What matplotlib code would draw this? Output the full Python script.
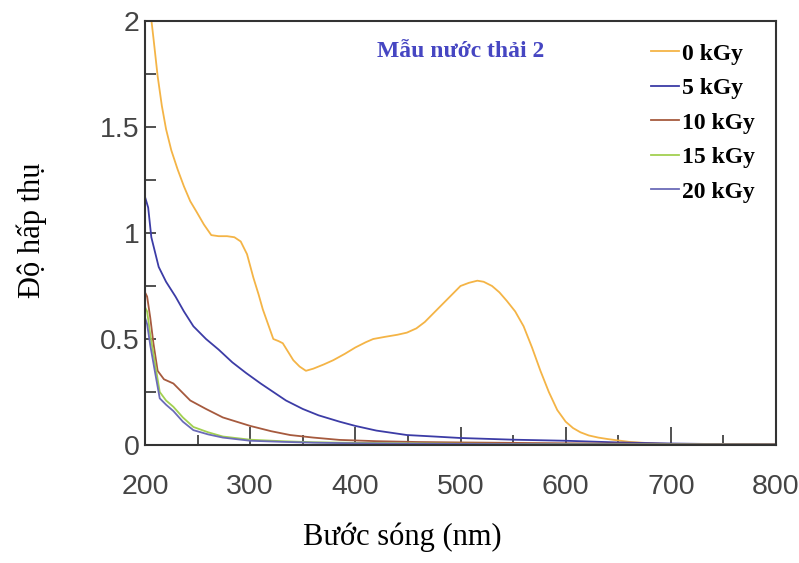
import numpy as np
import matplotlib
matplotlib.use("Agg")
import matplotlib.pyplot as plt
from matplotlib.ticker import MultipleLocator, FixedLocator

# -----------------------------
# Data
# -----------------------------
labels = ["0 kGy", "5 kGy", "10 kGy", "15 kGy", "20 kGy"]

wl_0 = [205, 208, 212, 216, 220, 225, 231, 237, 243, 249, 256, 263, 270, 278, 285,
        291, 297, 303, 308, 312, 317, 322, 327, 331, 336, 341, 347, 353, 360, 370,
        379, 390, 400, 410, 417, 428, 440, 449, 458, 466, 474, 482, 490, 500, 508,
        516, 522, 530, 537, 544, 552, 560, 568, 576, 584, 592, 600, 607, 614, 622,
        631, 640, 649, 660, 675, 690, 710, 750, 800]
abs_0 = [2.05, 1.92, 1.74, 1.60, 1.49, 1.39, 1.30, 1.22, 1.15, 1.10, 1.04, 0.99, 0.985, 0.985, 0.98,
         0.96, 0.90, 0.79, 0.71, 0.64, 0.57, 0.50, 0.49, 0.48, 0.44, 0.40, 0.37, 0.35, 0.36, 0.38,
         0.40, 0.43, 0.46, 0.485, 0.50, 0.51, 0.52, 0.53, 0.55, 0.58, 0.62, 0.66, 0.70, 0.75, 0.765,
         0.775, 0.77, 0.75, 0.72, 0.68, 0.63, 0.56, 0.46, 0.35, 0.25, 0.165, 0.11, 0.08, 0.06, 0.045,
         0.035, 0.028, 0.022, 0.015, 0.01, 0.006, 0.004, 0.002, 0.001]

wl_5 = [200, 203, 206, 210, 213, 220, 229, 237, 246, 258, 270, 283, 296, 310, 322,
        334, 350, 365, 385, 400, 420, 449, 475, 500, 550, 600, 650, 700, 750, 800]
abs_5 = [1.17, 1.12, 0.98, 0.90, 0.84, 0.77, 0.70, 0.63, 0.56, 0.50, 0.45, 0.39, 0.34, 0.29, 0.25,
         0.21, 0.17, 0.14, 0.11, 0.09, 0.068, 0.047, 0.04, 0.033, 0.025, 0.02, 0.012, 0.007, 0.004, 0.003]

wl_10 = [200, 202, 205, 208, 212, 218, 227, 235, 243, 258, 274, 287, 300, 320, 338,
         360, 385, 420, 460, 500, 600, 700, 800]
abs_10 = [0.72, 0.70, 0.60, 0.48, 0.35, 0.31, 0.29, 0.25, 0.21, 0.17, 0.13, 0.11, 0.09, 0.065, 0.047,
          0.035, 0.024, 0.018, 0.014, 0.012, 0.008, 0.005, 0.004]

wl_15 = [200, 202, 205, 210, 214, 220, 227, 236, 246, 260, 274, 300, 330, 360, 400, 500, 600, 800]
abs_15 = [0.65, 0.63, 0.52, 0.37, 0.25, 0.21, 0.18, 0.13, 0.085, 0.06, 0.04, 0.025, 0.018, 0.013, 0.01, 0.006, 0.004, 0.002]

wl_20 = [200, 202, 205, 210, 214, 220, 227, 236, 246, 260, 274, 300, 330, 360, 400, 500, 600, 800]
abs_20 = [0.60, 0.57, 0.47, 0.33, 0.22, 0.19, 0.16, 0.11, 0.07, 0.05, 0.035, 0.02, 0.015, 0.011, 0.008, 0.005, 0.003, 0.002]

x_ticks = [200, 300, 400, 500, 600, 700, 800]
y_ticks = [0, 0.5, 1, 1.5, 2]
y_tick_labels = ["0", "0.5", "1", "1.5", "2"]

colors = ["#f4b446", "#3c3ca6", "#a65a3e", "#a2d050", "#6b6bb8"]

# -----------------------------
# Figure
# -----------------------------
fig = plt.figure(figsize=(7.99, 5.63), dpi=100)
ax = fig.add_axes([0.1815, 0.2096, 0.7897, 0.7531])

series = [(wl_0, abs_0), (wl_5, abs_5), (wl_10, abs_10), (wl_15, abs_15), (wl_20, abs_20)]
for (wl, ab), c, lab in zip(series, colors, labels):
    ax.plot(wl, ab, color=c, lw=1.3, label=lab)

ax.set_xlim(200, 800)
ax.set_ylim(0, 2)

# -----------------------------
# Ticks
# -----------------------------
tick_font = ["Liberation Sans", "DejaVu Sans"]
ax.xaxis.set_major_locator(FixedLocator(x_ticks))
ax.xaxis.set_minor_locator(MultipleLocator(50))
ax.yaxis.set_major_locator(FixedLocator(y_ticks))
ax.yaxis.set_minor_locator(MultipleLocator(0.25))
ax.set_yticklabels(y_tick_labels)
ax.tick_params(axis="both", which="both", direction="in", color="#333333",
               top=False, right=False, labelcolor="#444444")
ax.tick_params(axis="x", which="major", length=13, width=1.2, pad=21)
ax.tick_params(axis="x", which="minor", length=7, width=1.2)
ax.tick_params(axis="y", which="both", length=8, width=1.2, pad=4)
for t in ax.get_xticklabels() + ax.get_yticklabels():
    t.set_family(tick_font)
    t.set_fontsize(20.5)

for s in ax.spines.values():
    s.set_color("#333333")
    s.set_linewidth(1.5)

# -----------------------------
# Labels
# -----------------------------
serif = ["Liberation Serif", "DejaVu Serif"]
fig.text(402 / 799, 1 - 537 / 563, "Bước sóng (nm)", family=serif, fontsize=22,
         ha="center", va="center")
fig.text(32 / 799, 1 - 230 / 563, "Độ hấp thụ", family=serif, fontsize=22,
         ha="center", va="center", rotation=90)

ax.text(0.367, 0.928, "Mẫu nước thải 2", transform=ax.transAxes, family=serif,
        fontsize=17, fontweight="bold", color="#4646c2", ha="left", va="center")

leg = ax.legend(loc="upper left", bbox_to_anchor=(0.802, 0.948), frameon=False,
                prop={"family": serif, "weight": "bold", "size": 17},
                handlelength=1.2, handletextpad=0.1, labelspacing=0.55,
                borderpad=0, borderaxespad=0)

fig.savefig("out.png", dpi=100)
